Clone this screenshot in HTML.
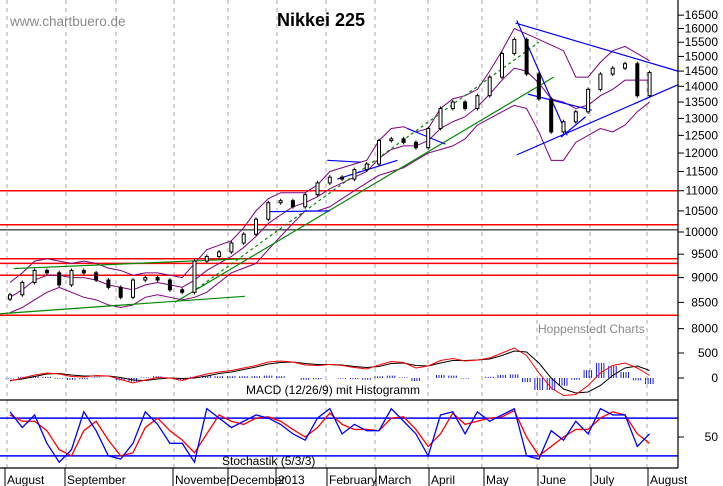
<!DOCTYPE html>
<html><head><meta charset="utf-8">
<style>
html,body{margin:0;padding:0;background:#fff;}
svg{display:block;font-family:"Liberation Sans",sans-serif;}
</style></head>
<body>
<svg id="chart" width="723" height="486" viewBox="0 0 723 486" xmlns="http://www.w3.org/2000/svg">
<rect width="723" height="486" fill="#fff"/>
<g id="grid"></g>
<g id="hlines"></g>
<g id="bands"></g>
<g id="trend"></g>
<g id="candles"></g>
<g id="macd"></g>
<g id="stoch"></g>
<g id="axes"></g>
<text x="10" y="26" font-size="13.5" fill="#8a8a8a">www.chartbuero.de</text>
<text x="277" y="26" font-size="18" font-weight="bold" fill="#000">Nikkei 225</text>
<text x="538" y="333" font-size="12" fill="#8a8a8a">Hoppenstedt Charts</text>
<text x="246" y="394" font-size="12" fill="#000">MACD (12/26/9) mit Histogramm</text>
<text x="222" y="465" font-size="12" fill="#000">Stochastik (5/3/3)</text>
</svg>
<script>
const closes=[8650,8900,9150,9100,8850,9150,9100,8950,8800,8600,8950,9000,8950,8750,8700,9350,9450,9550,9750,9950,10300,10700,10750,10600,10900,11200,11350,11300,11550,11700,12350,12400,12300,12150,12700,13300,13500,13300,13700,14300,15100,15600,14400,13600,12600,12900,13200,13900,14400,14600,14750,13700,14450];
const upper=[8900,9100,9350,9400,9350,9300,9350,9300,9200,9150,9050,9100,9100,9050,9000,9300,9600,9700,9800,10100,10500,10800,10950,10950,10950,11150,11500,11600,11700,11800,12350,12700,12750,12600,12700,13300,13600,13700,13900,14500,15200,16000,15800,15600,15400,15200,14300,14300,14800,15200,15350,15100,14850];
const middle=[8600,8750,8950,9050,9050,9000,9000,8950,8850,8800,8750,8850,8900,8850,8800,8950,9150,9300,9450,9650,9900,10200,10400,10600,10700,10850,11050,11200,11350,11500,11850,12100,12200,12200,12350,12700,12900,13050,13350,13750,14200,14600,14500,14100,13600,13500,13300,13400,13700,13900,14200,14200,14200];
const lower=[8300,8400,8550,8700,8800,8700,8600,8550,8450,8400,8450,8600,8650,8600,8550,8600,8700,8900,9100,9200,9300,9600,9900,10200,10500,10500,10600,10800,11000,11200,11400,11500,11600,11800,12000,12100,12200,12400,12800,13000,13200,13400,13300,12600,11800,11800,12300,12500,12700,12600,12800,13200,13500];
const macdLine=[-60,0,60,100,80,30,20,50,40,-30,-100,-40,10,0,-50,20,80,120,150,200,250,320,340,320,260,250,270,250,210,180,260,330,310,200,240,350,390,340,360,400,500,600,450,100,-200,-350,-330,-150,100,250,300,200,50];
const signalLine=[-50,-20,30,80,90,60,40,40,40,10,-40,-50,-20,0,-10,0,40,90,120,170,220,280,310,320,290,270,270,260,230,210,230,290,300,250,240,300,350,350,360,380,450,540,520,300,0,-220,-300,-280,-150,50,200,240,150];
const stochK=[90,65,85,40,10,30,90,60,20,15,40,90,70,40,40,10,95,80,65,75,85,80,70,55,45,80,95,55,70,60,60,95,75,55,20,85,90,55,90,75,85,95,20,15,60,45,75,55,95,85,85,35,55];
const stochD=[85,75,75,60,30,20,60,75,45,20,25,65,80,60,45,25,55,85,75,70,80,82,75,62,50,65,88,70,62,62,60,80,82,62,35,55,88,70,75,80,82,92,50,20,35,50,62,62,80,90,85,55,40];
const priceTicks=[16500,16000,15500,15000,14500,14000,13500,13000,12500,12000,11500,11000,10500,10000,9500,9000,8500,8000];
const levelsRed=[11000,10170,9400,9300,9050,8250];
const levelsBlack=[10050];
const monthNames=["August","September","November","December","2013","February","March","April","May","June","July","August"];
const monthX=[7,67,175,230,278,329,378,431,486,540,593,650];
const gridX=[7,66,116,174,228,277,326,375,428,482,537,590,647];

const NS="http://www.w3.org/2000/svg";
function mk(tag,attrs,parent){const e=document.createElementNS(NS,tag);for(const k in attrs)e.setAttribute(k,attrs[k]);document.getElementById(parent).appendChild(e);return e;}
const X=i=>10+i*12.3;
const Y=v=>232-433*Math.log(v/10000);
const MY=v=>378-v*0.05;
const SY=v=>437-(v-50)*0.63;
const AX=678;

gridX.forEach(x=>{const l=mk('line',{x1:x,y1:0,x2:x,y2:468,stroke:'#aaa','stroke-dasharray':'4,4','stroke-width':1},'grid');
});
levelsRed.forEach(v=>{const l=mk('line',{x1:0,y1:Y(v),x2:AX,y2:Y(v),stroke:'#f00','stroke-width':1.5},'hlines');
});
levelsBlack.forEach(v=>{const l=mk('line',{x1:0,y1:Y(v),x2:AX,y2:Y(v),stroke:'#000','stroke-width':1},'hlines');
});
function poly(arr,fy,col,g,name,w){const p=mk('polyline',{points:arr.map((v,i)=>X(i)+','+fy(v)).join(' '),fill:'none',stroke:col,'stroke-width':w||1},g);
return p;}
poly(upper,Y,'#800080','bands','bollinger-upper');
poly(middle,Y,'#800080','bands','bollinger-middle');
poly(lower,Y,'#800080','bands','bollinger-lower');
const trendLines=[[-0.8,8280,19.1,8620,'#080',''],[0.3,9190,19,9400,'#080',''],[13.4,8500,44.2,14300,'#080',''],[14.8,8700,43,15500,'#080','3,3'],
[41.1,16200,54.3,14500,'#00f',''],[41.2,11950,54.3,14050,'#00f',''],[41.2,16300,45.3,12500,'#00f',''],[42.1,13750,47.3,13250,'#00f',''],[44.8,12450,46.8,13050,'#00f',''],
[21.1,10480,26,10500,'#00f',''],[25.8,11800,28.5,11750,'#00f',''],[26.6,11300,31.5,11800,'#00f',''],[32.3,12700,35.4,12250,'#00f','']];
trendLines.forEach(t=>{const l=mk('line',{x1:X(t[0]),y1:Y(t[1]),x2:X(t[2]),y2:Y(t[3]),stroke:t[4],'stroke-width':1.2},'trend');
if(t[5])l.setAttribute('stroke-dasharray',t[5]);
});
closes.forEach((c,i)=>{const o=i?closes[i-1]:c*0.99;const up=c>=o;const top=Math.min(Y(c),Y(o));const h=Math.max(1.5,Math.abs(Y(c)-Y(o)));
const w=mk('line',{x1:X(i),y1:top-2,x2:X(i),y2:top+h+2,stroke:'#000','stroke-width':1},'candles');

const r=mk('rect',{x:X(i)-1.5,y:top,width:3,height:h,fill:up?'#fff':'#000',stroke:'#000','stroke-width':1},'candles');
});
macdLine.forEach((v,i)=>{const d=(v-signalLine[i])*1.2;
[-4,-1.5,1,3.5].forEach(off=>{const b=mk('line',{x1:X(i)+off,y1:MY(0),x2:X(i)+off,y2:MY(d),stroke:'#00f','stroke-width':0.9},'macd');
});});
poly(signalLine,MY,'#000','macd','macd-signal-line');
poly(macdLine,MY,'#f00','macd','macd-line');
[80,20].forEach(v=>{const l=mk('line',{x1:0,y1:SY(v),x2:AX,y2:SY(v),stroke:'#00f','stroke-width':1.5},'stoch');
});
poly(stochD,SY,'#f00','stoch','stochastic-d-line',1.3);
poly(stochK,SY,'#00f','stoch','stochastic-k-line',1.3);
const ax=[[0,400,AX,400],[AX,0,AX,468],[0,468,AX,468]];
ax.forEach(a=>{const l=mk('line',{x1:a[0],y1:a[1],x2:a[2],y2:a[3],stroke:'#000','stroke-width':1.2},'axes');
});
priceTicks.forEach(v=>{const t=mk('line',{x1:AX,y1:Y(v),x2:AX+6,y2:Y(v),stroke:'#000'},'axes');

const s=mk('text',{x:718,y:Y(v)+4,'font-size':12,'text-anchor':'end'},'axes');s.textContent=v;
});
[[500,MY(500)],[0,MY(0)],[50,SY(50)]].forEach(p=>{const t=mk('line',{x1:AX,y1:p[1],x2:AX+6,y2:p[1],stroke:'#000'},'axes');

const s=mk('text',{x:718,y:p[1]+4,'font-size':12,'text-anchor':'end'},'axes');s.textContent=p[0];
});
monthNames.forEach((m,i)=>{const t=mk('line',{x1:monthX[i]-2,y1:468,x2:monthX[i]-2,y2:486,stroke:'#000'},'axes');

const s=mk('text',{x:monthX[i],y:484,'font-size':12},'axes');s.textContent=m;
});
</script>
</body></html>
